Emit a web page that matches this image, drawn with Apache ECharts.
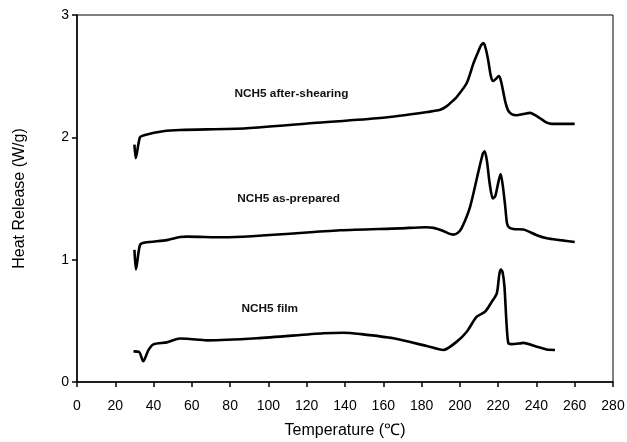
<!DOCTYPE html>
<html lang="en">
<head>
  <meta charset="UTF-8">
  <script src="https://cdn.jsdelivr.net/npm/echarts@6/dist/echarts.min.js"></script>
  <title>DSC</title>
  <style>
    html, body { margin: 0; padding: 0; background: #fff; }
    #main { width: 627px; height: 442px; }
  </style>
</head>
<body>
  <div id="main"></div>
  <script>
    // [温度, 放热]
    const afterShearing = [
      [30.0, 1.94], [30.7, 1.83], [32.9, 2.0], [35.5, 2.02], [45, 2.05], [53.8, 2.06],
      [88.7, 2.074], [123.3, 2.117], [158.3, 2.158], [184.4, 2.21], [189.7, 2.225],
      [193.2, 2.255], [196.4, 2.3], [198.4, 2.33], [203.6, 2.444], [207, 2.6],
      [208.8, 2.67], [211, 2.75], [212.4, 2.77], [213.6, 2.72], [214.8, 2.63],
      [216.2, 2.5], [217.4, 2.46], [219, 2.48], [220.3, 2.5], [221.5, 2.46],
      [223.6, 2.3], [225.2, 2.22], [227, 2.19], [229.7, 2.18], [233, 2.19],
      [236.7, 2.2], [239.5, 2.18], [241.9, 2.156], [245.4, 2.12], [248, 2.11],
      [260, 2.11]
    ];
    const asPrepared = [
      [30.0, 1.08], [30.8, 0.92], [32.9, 1.12], [35.5, 1.14], [46.9, 1.16],
      [53.8, 1.185], [57.3, 1.188], [76.5, 1.183], [137.4, 1.24], [168.8, 1.256],
      [182, 1.265], [186.2, 1.26], [191.4, 1.235], [194, 1.215], [196.6, 1.205],
      [199, 1.22], [201, 1.26], [205.3, 1.43], [209.7, 1.72], [212.1, 1.87],
      [213, 1.885], [214.2, 1.8], [215.6, 1.62], [217.2, 1.5], [218.5, 1.52],
      [220.2, 1.64], [221.3, 1.7], [222.3, 1.62], [223.6, 1.45], [224.6, 1.3],
      [225.6, 1.265], [228, 1.25], [233.2, 1.246], [240.2, 1.2], [245.4, 1.175],
      [252.4, 1.16], [260, 1.145]
    ];
    const film = [
      [29.5, 0.25], [32.5, 0.245], [34.6, 0.17], [37.3, 0.26], [39.9, 0.308],
      [46.9, 0.324], [53.8, 0.355], [59, 0.351], [67.8, 0.34], [93.9, 0.357],
      [128.7, 0.398], [139.2, 0.403], [147.9, 0.392], [165.3, 0.357], [182.7, 0.294],
      [191.4, 0.262], [198.4, 0.33], [203.6, 0.411], [208.8, 0.534], [213.2, 0.575],
      [216.7, 0.656], [219.3, 0.725], [220.6, 0.88], [221.4, 0.92], [222.3, 0.9],
      [223.3, 0.78], [224.3, 0.5], [225.3, 0.32], [227, 0.31], [231.5, 0.316],
      [233.2, 0.32], [240.2, 0.289], [245.4, 0.265], [249.7, 0.262]
    ];
    const seriesNames = ['NCH5 after-shearing', 'NCH5 as-prepared', 'NCH5 film'];
    // 标注文字 at data coordinates (left end of the text)
    const noteAt = [[82, 2.36], [83.4, 1.5], [85.7, 0.6]];
    const xTicks = { min: 0, max: 280, step: 20 };
    const yTicks = { min: 0, max: 3, step: 1 };

    const chart = echarts.init(document.getElementById('main'));
    const font = '"Liberation Sans", Arial, sans-serif';

    function makeSeries(name, data, note) {
      return {
        name: name,
        type: 'line',
        data: data,
        showSymbol: false,
        smooth: 0.25,
        lineStyle: { color: '#000', width: 2.6 },
        markPoint: {
          symbol: 'rect',
          symbolSize: 1,
          itemStyle: { color: 'rgba(0,0,0,0)' },
          label: {
            show: true, formatter: name, position: 'right', distance: 0,
            color: '#111', fontFamily: font, fontSize: 11.8, fontWeight: 'bold'
          },
          data: [{ coord: note }]
        }
      };
    }

    chart.setOption({
      animation: false,
      grid: {
        left: 77, right: 14, top: 15, bottom: 60, outerBoundsMode: 'none',
        show: true, borderColor: '#000', borderWidth: 1
      },
      xAxis: {
        type: 'value', min: xTicks.min, max: xTicks.max, interval: xTicks.step,
        name: 'Temperature (℃)', nameLocation: 'middle', nameGap: 41,
        nameTextStyle: { fontFamily: font, fontSize: 16, color: '#000' },
        axisLine: { lineStyle: { color: '#000', width: 1.5 } },
        axisTick: { length: 5, lineStyle: { color: '#000', width: 1.5 } },
        axisLabel: { fontFamily: font, fontSize: 14, color: '#000', margin: 17 },
        splitLine: { show: false }
      },
      yAxis: {
        type: 'value', min: yTicks.min, max: yTicks.max, interval: yTicks.step,
        name: 'Heat Release (W/g)', nameLocation: 'middle', nameGap: 49,
        nameTextStyle: { fontFamily: font, fontSize: 16, color: '#000' },
        axisLine: { show: true, lineStyle: { color: '#000', width: 1.5 } },
        axisTick: { show: true, length: 5, lineStyle: { color: '#000', width: 1.5 } },
        axisLabel: { fontFamily: font, fontSize: 14, color: '#000', margin: 8 },
        splitLine: { show: false }
      },
      series: [
        makeSeries(seriesNames[0], afterShearing, noteAt[0]),
        makeSeries(seriesNames[1], asPrepared, noteAt[1]),
        makeSeries(seriesNames[2], film, noteAt[2])
      ]
    });
  </script>
</body>
</html>
